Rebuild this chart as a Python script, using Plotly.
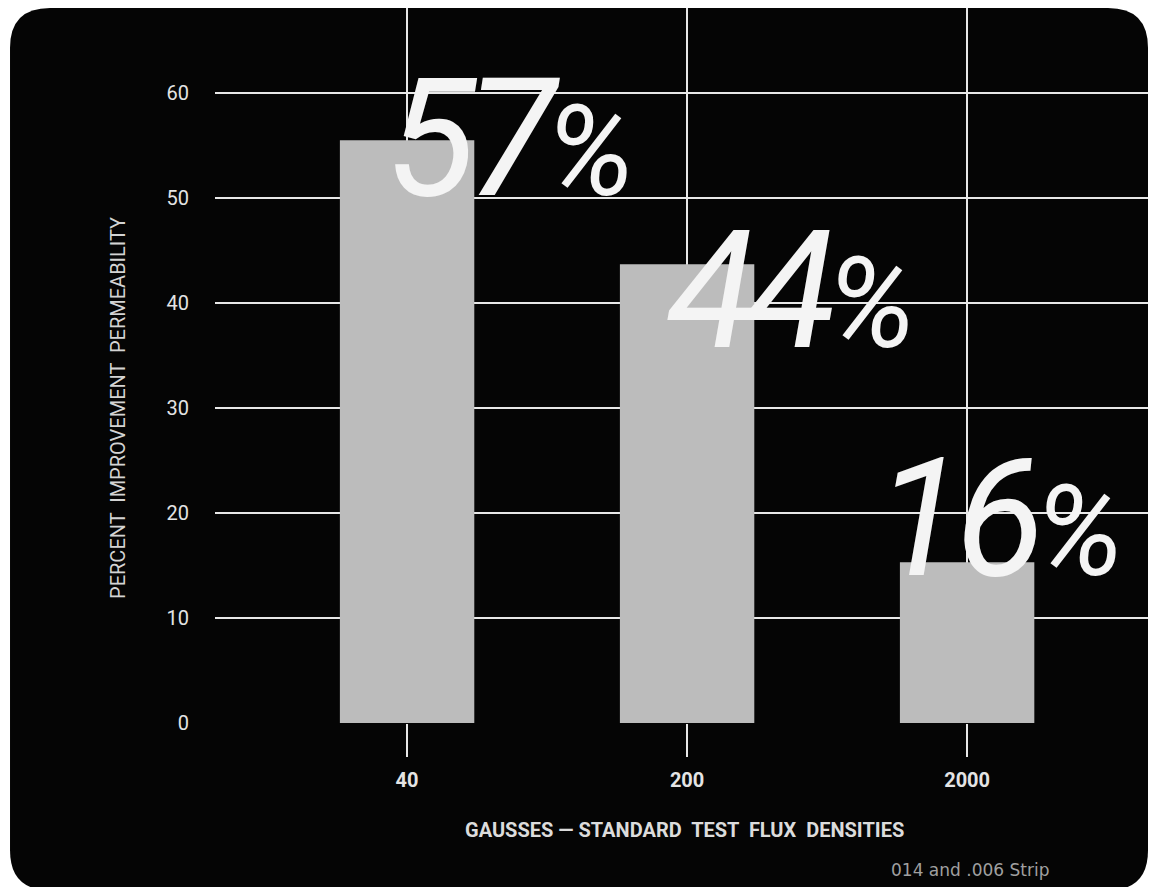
import plotly.graph_objects as go

# flux densities (gausses) and improvement in permeability
gausses = ["40", "200", "2000"]
improvement = [55.5, 43.7, 15.3]
callouts = ["57", "44", "16"]
y_ticks = [0, 10, 20, 30, 40, 50, 60]

# pixel nudges for the hand-lettered callouts, relative to each bar top
callout_shift = [(103, 2), (104, -26), (32, 44)]

FONT = "Roboto, Liberation Sans, sans-serif"

# page body has an 8px margin, so the figure is 16px smaller than the window
W, H = 1140, 879
L, B = 207, 164
PW, PH = W - L, H - B

fig = go.Figure(go.Bar(
    x=gausses, y=improvement,
    width=0.48,
    marker=dict(color="#bcbcbc", line=dict(width=0)),
    hovertemplate="%{x} gausses: %{y}%<extra></extra>",
))

# black card with rounded corners, in paper units
rx, ry = 40 / PW, 40 / PH
x0, x1, y0, y1 = -0.2197, 1.0, -0.234, 1.0
card = (
    f"M {x0 + rx},{y1} L {x1 - rx},{y1} Q {x1},{y1} {x1},{y1 - ry} "
    f"L {x1},{y0 + ry} Q {x1},{y0} {x1 - rx},{y0} "
    f"L {x0 + rx},{y0} Q {x0},{y0} {x0},{y0 + ry} "
    f"L {x0},{y1 - ry} Q {x0},{y1} {x0 + rx},{y1} Z"
)
fig.add_shape(type="path", path=card, xref="paper", yref="paper",
              fillcolor="#050505", line=dict(width=0), layer="below")

# category axis: place callouts by category index
for i, (v, num, (dx, dy)) in enumerate(zip(improvement, callouts, callout_shift)):
    fig.add_annotation(
        x=i, y=v, showarrow=False, xshift=dx, yshift=dy,
        text=f'<span style="letter-spacing:-10px">{num}</span>'
             f'<span style="font-size:125px">%</span>',
        font=dict(family=FONT, size=165, color="#f4f4f4", style="italic"),
    )

# paper annotations: anchor explicitly, auto-anchoring shifts them near the edges
fig.add_annotation(
    x=-0.104, y=0.4406, xref="paper", yref="paper", textangle=-90,
    xanchor="center", yanchor="middle",
    text="PERCENT  IMPROVEMENT  PERMEABILITY", showarrow=False,
    font=dict(family=FONT, size=20, color="#d4d4d4"),
)
fig.add_annotation(
    x=0.503, y=-0.1497, xref="paper", yref="paper",
    xanchor="center", yanchor="middle",
    text="GAUSSES — STANDARD  TEST  FLUX  DENSITIES", showarrow=False,
    font=dict(family=FONT, size=20, color="#dcdcdc", weight="bold"),
)
fig.add_annotation(
    x=0.809, y=-0.2056, xref="paper", yref="paper",
    xanchor="center", yanchor="middle",
    text="014 and .006 Strip", showarrow=False,
    font=dict(family="DejaVu Sans, sans-serif", size=17, color="#a0a0a0"),
)

fig.update_layout(
    width=W, height=H,
    margin=dict(l=L, r=0, t=0, b=B),
    paper_bgcolor="white",
    plot_bgcolor="rgba(0,0,0,0)",
    showlegend=False,
    xaxis=dict(
        type="category", range=[-0.686, 2.646],
        showgrid=True, gridcolor="#e8e8e8", gridwidth=2,
        ticks="outside", ticklen=33, tickwidth=2, tickcolor="#e8e8e8",
        showline=False, zeroline=False, ticklabelstandoff=6,
        tickfont=dict(family=FONT, size=20, color="#e4e4e4", weight="bold"),
    ),
    yaxis=dict(
        range=[0, 68.1], tickvals=y_ticks,
        showgrid=True, gridcolor="#e8e8e8", gridwidth=2,
        zeroline=False, showline=False, ticks="",
        ticklabelstandoff=25,
        tickfont=dict(family=FONT, size=20, color="#e4e4e4"),
    ),
)

fig.write_html("out.html")
